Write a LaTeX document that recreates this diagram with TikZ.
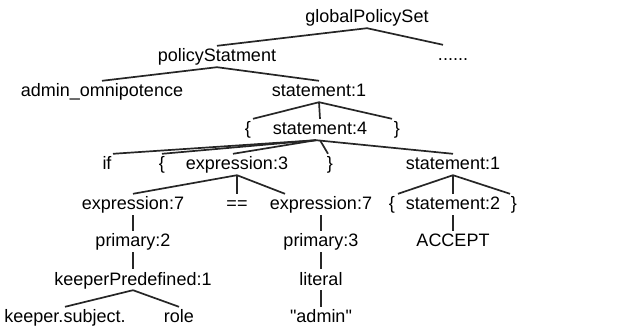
\documentclass[tikz,border=0pt]{standalone}
\usepackage{fontspec}
\setmainfont{Liberation Sans}
\newfontfamily\straightq{Liberation Sans}
\usepackage{tikz}

\begin{document}
\begin{tikzpicture}[x=1pt, y=-1pt,
    sym/.style={anchor=base, inner xsep=1pt, inner ysep=2pt, text height=14pt, text depth=3pt, font=\fontsize{18}{20}\selectfont},
    branch/.style={line width=1.7pt, draw=black!85}]

    \useasboundingbox (0,0) rectangle (638,334);

    % rows of the parse tree, top to bottom
    \node[sym] (gps) at (367,23) {globalPolicySet};
    \node[sym] (ps) at (217,62) {policyStatment};
    \node[sym] (dots) at (453,61) {......};
    \node[sym] (adm) at (102,97) {admin\_omnipotence};
    \node[sym] (st1) at (319,97) {statement:1};
    \node[sym] (lb1) at (248,135) {\{};
    \node[sym] (st4) at (320,135) {statement:4};
    \node[sym] (rb1) at (397,135) {\}};
    \node[sym] (if) at (107,170) {if};
    \node[sym] (lb2) at (162,170) {\{};
    \node[sym] (ex3) at (237,170) {expression:3};
    \node[sym] (rb2) at (330,170) {\}};
    \node[sym] (st1b) at (453,170) {statement:1};
    \node[sym] (ex7a) at (133,210) {expression:7};
    \node[sym] (eq) at (237,210) {==};
    \node[sym] (ex7b) at (321,210) {expression:7};
    \node[sym] (lb3) at (392,210) {\{};
    \node[sym] (st2) at (453,210) {statement:2};
    \node[sym] (rb3) at (514,210) {\}};
    \node[sym] (pr2) at (133,247) {primary:2};
    \node[sym] (pr3) at (321,247) {primary:3};
    \node[sym] (acc) at (453,247) {ACCEPT};
    \node[sym] (kp) at (133,285) {keeperPredefined:1};
    \node[sym] (lit) at (321,285) {literal};
    \node[sym] (ks) at (65,323) {keeper.subject.};
    \node[sym] (role) at (179,323) {role};
    \node[sym] (adq) at (321,323) {\straightq "admin"};

    \draw[branch] (gps.south) -- (ps.north);
    \draw[branch] (gps.south) -- ([xshift=-10pt]dots.north);
    \draw[branch] (ps.south) -- (adm.north);
    \draw[branch] (ps.south) -- (st1.north);
    \draw[branch] (st1.south) -- ([xshift=5pt]lb1.north);
    \draw[branch] (st1.south) -- (st4.north);
    \draw[branch] (st1.south) -- ([xshift=-5pt]rb1.north);
    \draw[branch] ([xshift=-4pt]st4.south) -- ([xshift=6pt]if.north);
    \draw[branch] ([xshift=-4pt]st4.south) -- (lb2.north);
    \draw[branch] ([xshift=-4pt]st4.south) -- ([xshift=-4pt]ex3.north);
    \draw[branch] (st4.south) -- ([xshift=-2pt]rb2.north);
    \draw[branch] ([xshift=-4pt]st4.south) -- (st1b.north);
    \draw[branch] (ex3.south) -- (ex7a.north);
    \draw[branch] (ex3.south) -- (eq.north);
    \draw[branch] (ex3.south) -- ([xshift=-36pt]ex7b.north);
    \draw[branch] (st1b.south) -- ([xshift=6pt]lb3.north);
    \draw[branch] (st1b.south) -- (st2.north);
    \draw[branch] (st1b.south) -- ([xshift=-4pt]rb3.north);
    \draw[branch] (ex7a.south) -- (pr2.north);
    \draw[branch] (pr2.south) -- (kp.north);
    \draw[branch] (kp.south) -- (ks.north);
    \draw[branch] (kp.south) -- (role.north);
    \draw[branch] (ex7b.south) -- (pr3.north);
    \draw[branch] (pr3.south) -- (lit.north);
    \draw[branch] (lit.south) -- (adq.north);
    \draw[branch] (st2.south) -- (acc.north);

\end{tikzpicture}
\end{document}
